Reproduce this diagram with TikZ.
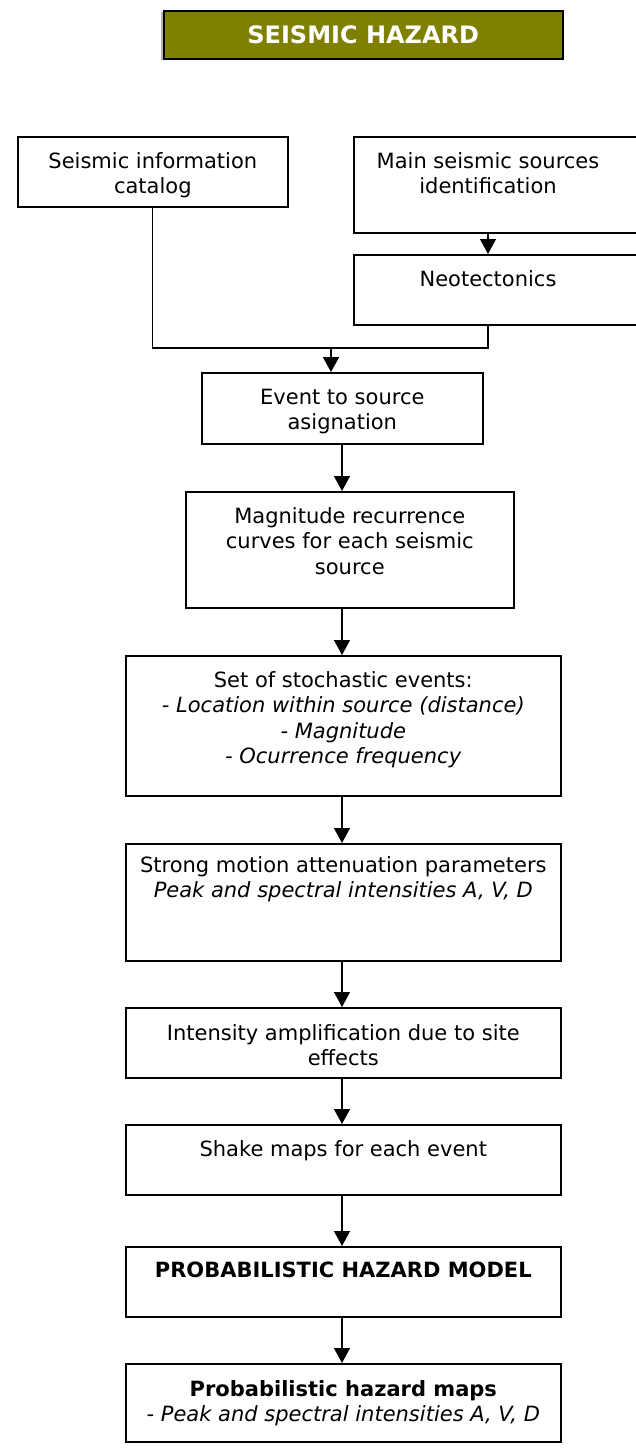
\documentclass[tikz,border=0pt]{standalone}
\usepackage{fontspec}
\setmainfont{DejaVu Sans}
\usetikzlibrary{arrows.meta,calc}
\definecolor{olivebox}{RGB}{128,128,0}
\begin{document}
\begin{tikzpicture}[x=1pt,y=-1pt,
  box/.style={draw=black, line width=1.6pt, rectangle, inner sep=0pt, anchor=north west},
  txt/.style={anchor=north, inner sep=0pt, align=center, font=\fontsize{21pt}{25.5pt}\selectfont},
  conn/.style={line width=1.3pt, draw=black},
  arr/.style={conn, -{Triangle[width=16pt,length=15pt]}}]
\useasboundingbox (0,0) rectangle (636,1452);
\clip (0,0) rectangle (636,1452);
% title
\fill[gray!60] (161,12) rectangle (561,60);
\node[draw=black, line width=1.5pt, fill=olivebox, minimum width=399pt, minimum height=48pt,
  anchor=north west, inner sep=0pt, text=white, font=\bfseries\fontsize{24pt}{28pt}\selectfont]
  (title) at (163,10) {SEISMIC HAZARD};
% top row
\node[box, minimum width=270pt, minimum height=70pt] (b1) at (17,136) {};
\node[txt] (t1) at ([yshift=-14pt]b1.north) {\strut Seismic information\\catalog};
\node[box, minimum width=310pt, minimum height=96pt] (b2) at (353,136) {};
\node[txt] (t2) at (488,150) {\strut Main seismic sources\\identification};
\node[box, minimum width=310pt, minimum height=70pt] (b3) at (353,254) {};
\node[txt] (t3) at (488,268) {\strut Neotectonics};
% middle column
\node[box, minimum width=281pt, minimum height=71pt] (b4) at (201,372) {};
\node[txt] (t4) at ([yshift=-14pt]b4.north) {\strut Event to source\\asignation};
\node[box, minimum width=328pt, minimum height=116pt] (b5) at (185,491) {};
\node[txt] (t5) at ([yshift=-14pt]b5.north) {\strut Magnitude recurrence\\curves for each seismic\\source};
\node[box, minimum width=435pt, minimum height=140pt] (b6) at (125,655) {};
\node[txt] (t6) at ([yshift=-14pt]b6.north) {\strut Set of stochastic events:\\\textit{- Location within source (distance)}\\\textit{- Magnitude}\\\textit{- Ocurrence frequency}};
\node[box, minimum width=435pt, minimum height=117pt] (b7) at (125,843) {};
\node[txt] (t7) at ([yshift=-11pt]b7.north) {\strut Strong motion attenuation parameters\\\textit{Peak and spectral intensities A, V, D}};
\node[box, minimum width=435pt, minimum height=70pt] (b8) at (125,1007) {};
\node[txt] (t8) at ([yshift=-15pt]b8.north) {\strut Intensity amplification due to site\\effects};
\node[box, minimum width=435pt, minimum height=70pt] (b9) at (125,1124) {};
\node[txt] (t9) at ([yshift=-14pt]b9.north) {\strut Shake maps for each event};
\node[box, minimum width=435pt, minimum height=70pt] (b10) at (125,1246) {};
\node[txt] (t10) at ([yshift=-13pt]b10.north) {\strut\textbf{PROBABILISTIC HAZARD MODEL}};
\node[box, minimum width=435pt, minimum height=78pt] (b11) at (125,1363) {};
\node[txt] (t11) at ([yshift=-15pt]b11.north) {\strut\textbf{Probabilistic hazard maps}\\\textit{- Peak and spectral intensities A, V, D}};
% connectors
\coordinate (join) at (331,348);
\coordinate (ax) at (342,0);
\draw[conn] (b1.south) |- (join) -| (b3.south -| t3);
\draw[arr] (join) -- (join |- b4.north);
\draw[arr] (b2.south -| t2) -- (b3.north -| t2);
\draw[arr] (b4.south -| ax) -- (b5.north -| ax);
\draw[arr] (b5.south -| ax) -- (b6.north -| ax);
\draw[arr] (b6.south -| ax) -- (b7.north -| ax);
\draw[arr] (b7.south -| ax) -- (b8.north -| ax);
\draw[arr] (b8.south -| ax) -- (b9.north -| ax);
\draw[arr] (b9.south -| ax) -- (b10.north -| ax);
\draw[arr] (b10.south -| ax) -- (b11.north -| ax);
\end{tikzpicture}
\end{document}
